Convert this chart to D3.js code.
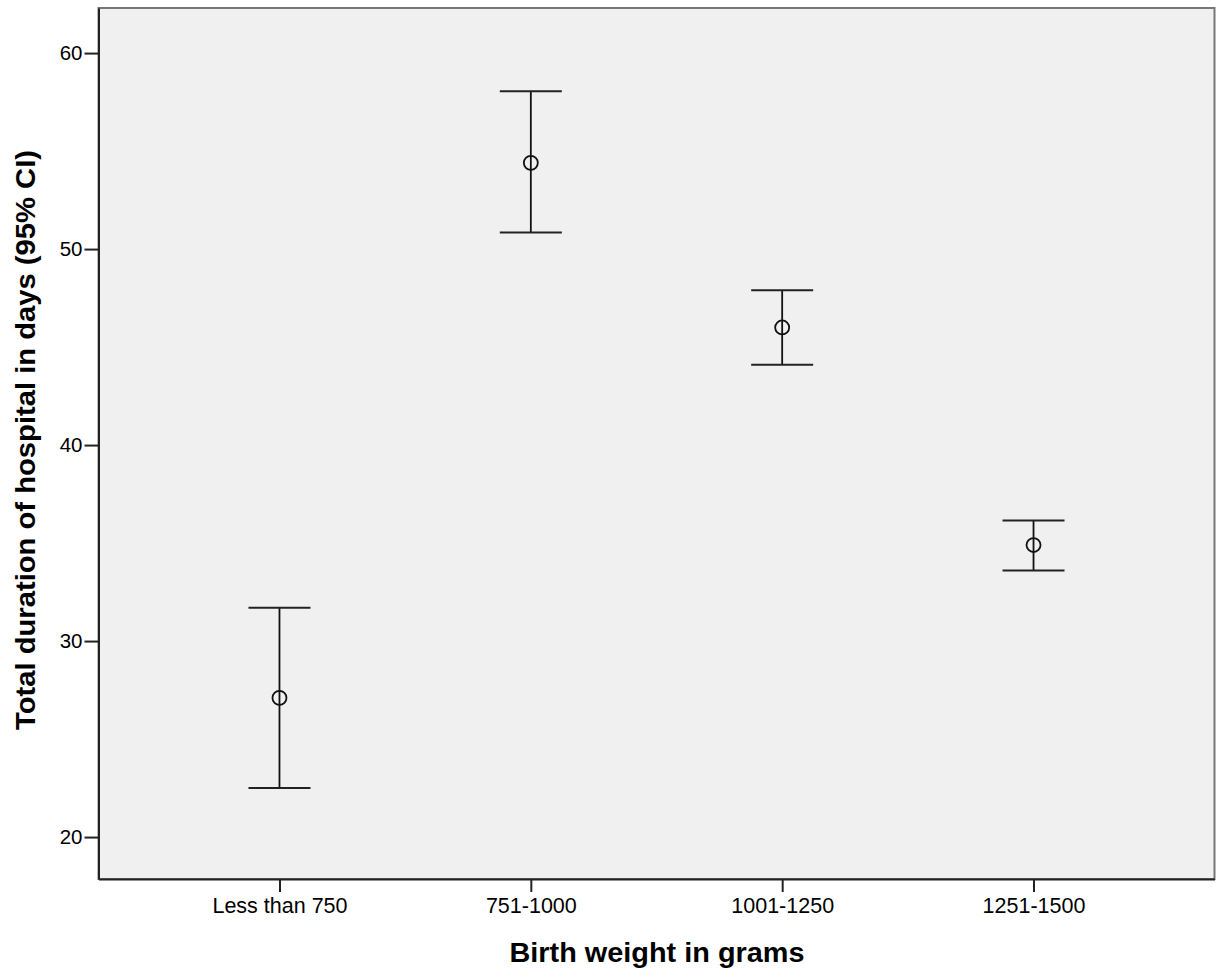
<!DOCTYPE html>
<html>
<head>
<meta charset="utf-8">
<script src="https://cdn.jsdelivr.net/npm/d3@7"></script>
<style>
  body { margin: 0; background: #fff; }
  svg text { font-family: "Liberation Sans", Arial, sans-serif; fill: #000; }
</style>
</head>
<body>
<svg id="chart" width="1219" height="975"></svg>
<script>
var categories = ['Less than 750', '751-1000', '1001-1250', '1251-1500'];
var means = [27.1, 54.4, 46.0, 34.9];
var upper = [31.7, 58.05, 47.9, 36.15];
var lower = [22.5, 50.85, 44.1, 33.6];
var yTicks = [20, 30, 40, 50, 60];

var svg = d3.select('#chart');
var plotLeft = 98.5, plotRight = 1214.5, plotTop = 8, plotBottom = 879;

var x = d3.scalePoint().domain(categories).range([plotLeft, plotRight]).padding(0.72);
var y = d3.scaleLinear().domain([17.86, 62.3]).range([plotBottom, plotTop]);

svg.append('rect')
    .attr('x', plotLeft).attr('y', plotTop)
    .attr('width', plotRight - plotLeft).attr('height', plotBottom - plotTop)
    .attr('fill', '#f0f0f0')
    .attr('stroke', '#777').attr('stroke-width', 2);

// y axis
var yAxis = svg.append('g')
    .attr('transform', 'translate(' + plotLeft + ',0)')
    .call(d3.axisLeft(y).tickValues(yTicks).tickSize(14).tickSizeOuter(0).tickPadding(2));
yAxis.select('.domain').attr('stroke', '#222').attr('stroke-width', 2);
yAxis.selectAll('.tick line').attr('stroke', '#222').attr('stroke-width', 2);
yAxis.selectAll('.tick text').attr('font-size', 20.5).attr('fill', '#111')
    .attr('font-family', '"Liberation Sans", Arial, sans-serif');

// x axis
var xAxis = svg.append('g')
    .attr('transform', 'translate(0,' + plotBottom + ')')
    .call(d3.axisBottom(x).tickSize(13).tickSizeOuter(0).tickPadding(6));
xAxis.select('.domain').attr('stroke', '#222').attr('stroke-width', 2);
xAxis.selectAll('.tick line').attr('stroke', '#222').attr('stroke-width', 2);
xAxis.selectAll('.tick text').attr('font-size', 21.5).attr('fill', '#111')
    .attr('font-family', '"Liberation Sans", Arial, sans-serif');

// error bars
var bars = svg.append('g').selectAll('g.bar')
    .data(categories.map(function(c, i) {
        return { cat: c, mean: means[i], hi: upper[i], lo: lower[i] };
    }))
    .enter().append('g').attr('class', 'bar');

bars.append('line')
    .attr('x1', function(d) { return x(d.cat); })
    .attr('x2', function(d) { return x(d.cat); })
    .attr('y1', function(d) { return y(d.hi); })
    .attr('y2', function(d) { return y(d.lo); })
    .attr('stroke', '#111').attr('stroke-width', 1.8);
['hi', 'lo'].forEach(function(k) {
    bars.append('line')
        .attr('x1', function(d) { return x(d.cat) - 31; })
        .attr('x2', function(d) { return x(d.cat) + 31; })
        .attr('y1', function(d) { return y(d[k]); })
        .attr('y2', function(d) { return y(d[k]); })
        .attr('stroke', '#222').attr('stroke-width', 2);
});
bars.append('circle')
    .attr('cx', function(d) { return x(d.cat); })
    .attr('cy', function(d) { return y(d.mean); })
    .attr('r', 7)
    .attr('fill', 'none')
    .attr('stroke', '#111').attr('stroke-width', 1.8);

// titles
svg.append('text')
    .attr('x', 657).attr('y', 962)
    .attr('text-anchor', 'middle')
    .attr('font-size', 27).attr('font-weight', 'bold')
    .attr('textLength', 295).attr('lengthAdjust', 'spacingAndGlyphs')
    .text('Birth weight in grams');
svg.append('text')
    .attr('transform', 'translate(35,' + 440 + ') rotate(-90)')
    .attr('text-anchor', 'middle')
    .attr('font-size', 27).attr('font-weight', 'bold')
    .attr('textLength', 580).attr('lengthAdjust', 'spacingAndGlyphs')
    .text('Total duration of hospital in days (95% CI)');
</script>
</body>
</html>
